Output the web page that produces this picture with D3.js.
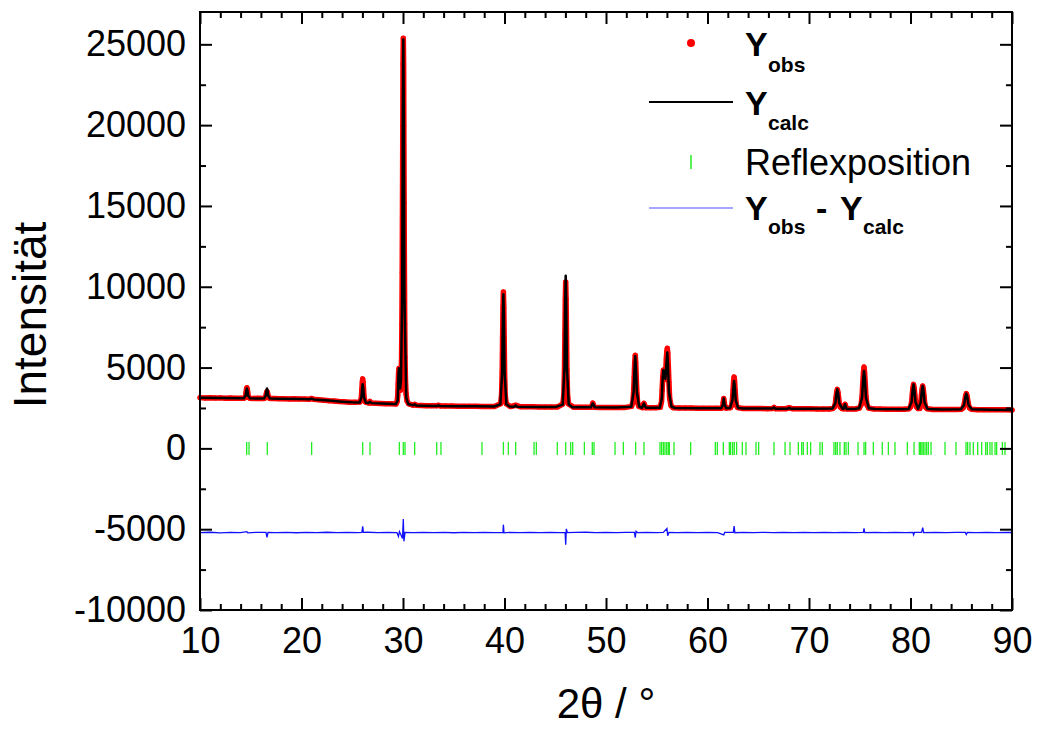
<!DOCTYPE html>
<html><head><meta charset="utf-8">
<script src="https://cdn.jsdelivr.net/npm/d3@7"></script>
<style>
body{margin:0;background:#fff}
svg{display:block}
text{font-family:"Liberation Sans",Arial,Helvetica,sans-serif;fill:#000}
</style>
</head><body>
<svg id="chart" width="1037" height="729"></svg>
<script>
// ---------- data ----------
const xTicks = [10,20,30,40,50,60,70,80,90];
const yTicks = [-10000,-5000,0,5000,10000,15000,20000,25000];

// observed intensities [2theta, counts]
const yObs = [
[10,3140],[10.5,3120],[11,3135],[11.5,3110],[12,3125],[12.5,3100],[13,3115],[13.5,3095],[14,3105],
[14.34,3105],[14.44,3155],[14.50,3290],[14.54,3470],[14.58,3660],[14.62,3750],[14.66,3660],[14.70,3470],[14.74,3290],[14.80,3155],[14.90,3105],
[15.2,3090],[15.7,3100],
[16.32,3090],[16.42,3125],[16.48,3210],[16.52,3335],[16.56,3460],[16.60,3520],[16.64,3460],[16.68,3335],[16.72,3210],[16.78,3125],[16.88,3090],
[17.3,3080],[17.8,3065],[18.3,3075],[18.8,3060],[19.3,3070],[19.8,3050],[20.3,3055],[20.8,3045],[21.0,3090],[21.2,3035],[21.7,3010],[22.2,2985],[22.7,2950],[23.2,2935],[23.7,2900],[24.2,2885],[24.7,2860],[25.2,2855],
[25.75,2865],[25.85,2980],[25.91,3270],[25.95,3680],[25.99,4095],[26.03,4300],[26.07,4095],[26.11,3680],[26.15,3270],[26.21,2980],[26.31,2865],
[26.65,2810],[26.75,2900],[26.85,2805],[27.3,2790],[27.8,2780],[28.3,2765],[28.8,2755],
[29.32,2745],[29.42,2900],[29.48,3250],[29.52,3980],[29.56,4600],[29.60,4950],[29.64,4640],[29.68,4000],[29.72,3650],[29.76,3600],[29.80,4200],[29.86,5650],[29.89,7690],[29.92,10860],[29.95,15170],[29.98,19940],[30.00,23790],[30.03,25380],[30.06,23790],[30.08,19940],[30.11,15170],[30.14,10860],[30.17,7690],[30.20,5650],[30.24,4290],[30.30,3380],[30.40,2930],[30.55,2760],
[31.0,2675],[31.15,2730],[31.3,2665],[31.8,2650],[32.3,2640],[32.8,2635],[33.3,2630],[33.5,2670],[33.7,2625],[34.2,2620],[34.8,2615],[35.4,2610],[36,2605],[36.6,2600],[37.2,2600],[37.8,2595],[38.4,2590],[39.0,2590],
[39.61,2760],[39.71,3290],[39.77,4710],[39.81,6700],[39.85,8690],[39.89,9680],[39.93,8690],[39.97,6700],[40.01,4710],[40.07,3290],[40.17,2760],
[40.6,2585],[41.1,2670],[41.6,2575],[42.2,2570],[42.8,2570],[43.4,2565],[44,2560],[44.6,2560],[45.2,2555],
[45.75,2745],[45.85,3325],[45.91,4875],[45.95,7045],[45.99,9215],[46.03,10300],[46.07,9215],[46.11,7045],[46.15,4875],[46.21,3325],[46.31,2745],
[46.8,2550],[47.4,2548],[48.0,2545],
[48.55,2550],[48.65,2700],[48.70,2800],[48.75,2690],[48.85,2545],
[49.4,2535],[50,2532],[50.6,2528],[51.2,2525],[51.8,2522],
[52.52,2600],[52.65,2845],[52.72,3490],[52.78,4400],[52.83,5305],[52.88,5760],[52.93,5305],[52.98,4400],[53.04,3490],[53.11,2845],[53.24,2600],
[53.6,2520],[53.68,2690],[53.74,2790],[53.80,2680],[53.9,2515],
[54.4,2512],[54.9,2510],
[55.35,2540],[55.47,2900],[55.53,3600],[55.59,4400],[55.65,4850],[55.71,4550],[55.77,4250],[55.83,4300],[55.89,4800],[55.94,5550],[55.99,6000],[56.04,6200],[56.09,5900],[56.14,5100],[56.20,4100],[56.27,3100],[56.40,2650],[56.6,2520],
[57.2,2500],[57.8,2495],[58.4,2492],[59,2490],[59.6,2487],[60.2,2484],[60.8,2480],
[61.40,2490],[61.50,2620],[61.55,2850],[61.60,3080],[61.65,2860],[61.70,2640],[61.82,2490],
[62.26,2520],[62.39,2665],[62.46,3055],[62.52,3600],[62.57,4150],[62.62,4420],[62.67,4150],[62.72,3600],[62.78,3055],[62.85,2665],[62.98,2520],
[63.5,2468],[64.1,2465],[64.7,2462],[65.3,2460],[65.9,2458],[66.4,2460],[66.55,2535],[66.7,2455],[67.2,2455],[67.7,2452],[68.06,2515],[68.4,2450],[69,2448],[69.6,2446],[70.2,2445],[70.8,2444],[71.4,2442],[72.0,2441],
[72.34,2470],[72.50,2560],[72.60,2800],[72.66,3140],[72.73,3480],[72.79,3650],[72.85,3480],[72.92,3140],[72.98,2800],[73.08,2560],[73.24,2470],
[73.40,2445],[73.50,2650],[73.55,2730],[73.60,2640],[73.72,2440],
[74.2,2438],[74.6,2437],
[74.97,2500],[75.13,2695],[75.23,3215],[75.29,3945],[75.36,4675],[75.42,5040],[75.48,4675],[75.55,3945],[75.61,3215],[75.71,2695],[75.87,2500],
[76.4,2432],[77,2430],[77.6,2427],[78.2,2424],[78.8,2421],[79.4,2418],
[79.85,2450],[80.01,2565],[80.11,2875],[80.17,3310],[80.24,3745],[80.30,3960],[80.36,3745],[80.43,3310],[80.49,2875],[80.59,2565],[80.75,2460],
[80.92,2470],[81.01,2845],[81.07,3250],[81.14,3660],[81.20,3860],[81.26,3660],[81.33,3250],[81.39,2845],[81.49,2555],[81.65,2450],
[82.2,2410],[82.8,2407],[83.4,2404],[84,2402],[84.5,2400],
[85.00,2420],[85.18,2495],[85.28,2695],[85.36,2970],[85.43,3250],[85.50,3390],[85.57,3250],[85.64,2970],[85.72,2695],[85.82,2495],[86.00,2420],
[86.6,2395],[87.2,2392],[87.8,2390],[88.4,2388],[89,2385],[89.5,2383],[90,2380]
];

// calculated profile [2theta, counts]
const yCalc = [
[10,3130],[12,3110],[14,3095],
[14.32,3100],[14.50,3270],[14.57,3580],[14.62,3700],[14.67,3580],[14.74,3270],[14.92,3095],
[15.5,3088],
[16.30,3085],[16.48,3265],[16.55,3575],[16.60,3700],[16.65,3575],[16.72,3265],[16.90,3082],
[18,3070],[20,3050],[20.8,3040],[21.0,3080],[21.2,3030],[22,2990],[23,2940],[24,2890],[25,2850],
[25.73,2835],[25.91,3170],[25.98,3740],[26.03,3970],[26.08,3740],[26.15,3170],[26.33,2825],
[26.6,2810],[26.75,2880],[26.9,2800],[28,2770],[29,2745],[29.30,2740],
[29.48,2980],[29.55,4500],[29.60,4950],[29.65,4500],[29.72,3700],[29.80,4200],[29.92,9480],[29.98,20780],[30.03,25300],[30.08,20780],[30.14,9480],[30.32,3150],[30.5,2750],
[31.0,2670],[31.15,2720],[31.3,2660],[32,2645],[33.35,2625],[33.5,2665],[33.65,2620],[35,2610],[37,2600],[39,2590],
[39.59,2725],[39.77,4670],[39.84,8150],[39.89,9540],[39.94,8150],[40.01,4670],[40.19,2725],[40.5,2585],
[40.95,2578],[41.1,2660],[41.25,2575],[43,2565],[45,2555],
[45.73,2710],[45.91,4990],[45.98,9050],[46.03,10680],[46.08,9050],[46.15,4990],[46.33,2710],[46.7,2550],
[48.5,2542],[48.7,2780],[48.9,2538],[51,2525],
[52.49,2580],[52.72,3470],[52.82,5060],[52.88,5700],[52.94,5060],[53.04,3470],[53.27,2580],
[53.55,2515],[53.74,2780],[53.93,2512],[55.0,2508],
[55.30,2520],[55.50,3100],[55.58,4300],[55.65,4850],[55.72,4500],[55.85,4300],[55.95,5200],[56.04,5930],[56.10,5200],[56.20,3500],[56.45,2580],[56.8,2500],
[59,2485],[61.35,2478],[61.52,2700],[61.60,3080],[61.68,2700],[61.85,2478],
[62.23,2505],[62.46,2980],[62.56,3830],[62.62,4170],[62.68,3830],[62.78,2980],[63.01,2505],[63.5,2470],
[66.4,2460],[66.55,2530],[66.7,2455],[67.9,2452],[68.06,2510],[68.2,2450],[70,2445],
[72.31,2465],[72.60,2800],[72.71,3410],[72.79,3650],[72.87,3410],[72.98,2800],[73.27,2470],
[73.4,2445],[73.55,2730],[73.7,2440],[74.5,2437],
[74.94,2480],[75.23,3140],[75.34,4320],[75.42,4790],[75.50,4320],[75.61,3140],[75.90,2480],[76.5,2430],[79,2420],
[79.82,2440],[80.11,2875],[80.22,3650],[80.30,3960],[80.38,3650],[80.49,2875],[80.75,2450],
[81.01,2845],[81.12,3570],[81.20,3860],[81.28,3570],[81.39,2845],[81.68,2440],[83,2405],
[84.96,2415],[85.28,2690],[85.41,3190],[85.50,3390],[85.59,3190],[85.72,2690],[86.04,2415],[88,2390],[90,2380]
];

// difference curve (offset) [2theta, counts]
const yDiff = [
[10,-5210],[11,-5190],[12,-5225],[13,-5200],[14,-5215],[14.62,-5150],[14.7,-5230],[15.5,-5200],[16.5,-5200],[16.6,-5500],[16.7,-5200],
[17.5,-5215],[18.5,-5195],[19.5,-5220],[20.5,-5200],[21.5,-5215],[22.5,-5190],[23.5,-5210],[24.5,-5195],[25.5,-5215],
[25.95,-5200],[26.03,-4830],[26.1,-5200],[26.5,-5190],[27.5,-5210],[28.5,-5200],[29.4,-5210],[29.55,-5450],[29.65,-5150],
[29.95,-5580],[30.03,-4370],[30.09,-5750],[30.2,-5200],[31,-5215],[32,-5195],[33,-5210],[34,-5200],[35,-5220],[36,-5195],
[37,-5210],[38,-5200],[39,-5215],[39.85,-5200],[39.89,-4720],[39.95,-5230],[40.5,-5200],[41.5,-5215],[42.5,-5195],[43.5,-5210],
[44.5,-5200],[45.5,-5215],[45.97,-5200],[46.03,-5960],[46.09,-4980],[46.2,-5210],[47,-5200],[48,-5190],[49,-5215],[50,-5200],
[51,-5210],[52,-5195],[52.8,-5200],[52.88,-5520],[52.96,-5130],[53.1,-5210],[54,-5200],[55,-5215],[55.65,-5200],[56.0,-4960],
[56.08,-5400],[56.2,-5200],[57,-5210],[58,-5195],[59,-5215],[60,-5200],[61,-5210],[61.6,-5350],[61.7,-5200],[62.55,-5200],
[62.62,-4800],[62.7,-5220],[63.5,-5200],[64.5,-5215],[65.5,-5195],[66.5,-5210],[67.5,-5200],[68.5,-5215],[69.5,-5195],
[70.5,-5210],[71.5,-5200],[72.5,-5215],[73.5,-5195],[74.5,-5210],[75.35,-5200],[75.42,-4950],[75.5,-5210],[76.5,-5200],
[77.5,-5215],[78.5,-5195],[79.5,-5210],[80.25,-5200],[80.3,-5350],[80.4,-5200],[81.1,-5200],[81.2,-4900],[81.3,-5210],
[82.5,-5200],[83.5,-5215],[84.5,-5195],[85.4,-5200],[85.5,-5330],[85.6,-5200],[86.5,-5210],[87.5,-5200],[88.5,-5215],
[89.5,-5195],[90,-5205]
];

// Bragg reflection positions (2theta)
const reflexPos = [14.60,14.83,16.63,21.0,26.03,26.75,29.64,30.03,30.20,31.15,33.32,33.74,37.78,39.89,40.38,41.10,42.91,43.14,45.20,46.03,46.52,46.72,47.87,48.65,48.82,50.89,51.71,52.92,53.74,55.32,55.48,55.65,55.81,55.98,56.14,56.24,56.70,58.34,60.77,60.97,61.56,62.15,62.28,62.48,62.64,62.87,63.43,63.79,64.78,65.04,66.55,67.64,68.13,68.95,69.28,69.44,69.84,70.16,71.08,71.31,72.46,72.63,72.79,73.05,73.48,73.65,73.88,74.83,75.42,75.58,76.34,77.22,77.82,78.47,79.69,80.35,80.87,81.0,81.13,81.26,81.43,81.59,81.76,82.02,83.40,84.48,85.47,85.63,85.86,86.19,86.62,87.01,87.41,87.57,87.83,88.03,88.33,88.49,89.05,89.31];

// ---------- chart ----------
const svg = d3.select("#chart");
const L = 200, R = 1012, T = 12, B = 610;
const x = d3.scaleLinear().domain([10, 90]).range([L, R]);
const y = d3.scaleLinear().domain([-10000, 27000]).range([B, T]);

const line = d3.line().x(d => x(d[0])).y(d => y(d[1]));

const plot = svg.append("g");
// observed: dense red scatter (band) + individual points
plot.append("path").datum(yObs).attr("d", line)
  .attr("fill", "none").attr("stroke", "#ff0000").attr("stroke-width", 5.5)
  .attr("stroke-linejoin", "round").attr("stroke-linecap", "round");
plot.selectAll("circle.obs").data(yObs).join("circle").attr("class", "obs")
  .attr("cx", d => x(d[0])).attr("cy", d => y(d[1])).attr("r", 2.5).attr("fill", "#ff0000");
// calculated
plot.append("path").datum(yCalc).attr("d", line)
  .attr("fill", "none").attr("stroke", "#000").attr("stroke-width", 2.5)
  .attr("stroke-linejoin", "round");
// reflection ticks
plot.selectAll("line.refl").data(reflexPos).join("line").attr("class", "refl")
  .attr("x1", d => x(d)).attr("x2", d => x(d))
  .attr("y1", y(0) - 6.5).attr("y2", y(0) + 6.5)
  .attr("stroke", "#22ee22").attr("stroke-width", 1.3);
// difference
plot.append("path").datum(yDiff).attr("d", line)
  .attr("fill", "none").attr("stroke", "#1010ff").attr("stroke-width", 1.3);

// axes
const fmt = d => String(d);   // plain hyphen-minus like the reference
const xMinor = d3.range(10, 90.01, 2).filter(v => v % 10 !== 0);
const yMinor = d3.range(-7500, 27000, 5000);
function styleAxis(g) {
  g.select(".domain").remove();
  g.selectAll(".tick line").attr("stroke", "#000").attr("stroke-width", 2);
  g.selectAll("text").attr("font-size", 36).attr("fill", "#000")
    .attr("font-family", '"Liberation Sans", Arial, sans-serif');
}
svg.append("g").attr("transform", `translate(0,${B})`)
  .call(d3.axisBottom(x).tickValues(xTicks).tickSize(-12).tickPadding(17).tickFormat(fmt))
  .call(styleAxis);
svg.append("g").attr("transform", `translate(0,${B})`)
  .call(d3.axisBottom(x).tickValues(xMinor).tickSize(-6).tickFormat(""))
  .call(styleAxis);
svg.append("g").attr("transform", `translate(0,${T})`)
  .call(d3.axisTop(x).tickValues(xTicks).tickSize(-12).tickFormat(""))
  .call(styleAxis);
svg.append("g").attr("transform", `translate(0,${T})`)
  .call(d3.axisTop(x).tickValues(xMinor).tickSize(-6).tickFormat(""))
  .call(styleAxis);
svg.append("g").attr("transform", `translate(${L},0)`)
  .call(d3.axisLeft(y).tickValues(yTicks).tickSize(-12).tickPadding(14).tickFormat(fmt))
  .call(styleAxis);
svg.append("g").attr("transform", `translate(${L},0)`)
  .call(d3.axisLeft(y).tickValues(yMinor).tickSize(-6).tickFormat(""))
  .call(styleAxis);
svg.append("g").attr("transform", `translate(${R},0)`)
  .call(d3.axisRight(y).tickValues(yTicks).tickSize(-12).tickFormat(""))
  .call(styleAxis);
svg.append("g").attr("transform", `translate(${R},0)`)
  .call(d3.axisRight(y).tickValues(yMinor).tickSize(-6).tickFormat(""))
  .call(styleAxis);

svg.append("rect").attr("x", L).attr("y", T).attr("width", R - L).attr("height", B - T)
  .attr("fill", "none").attr("stroke", "#000").attr("stroke-width", 2);

// axis titles
svg.append("text").attr("x", 606).attr("y", 718).attr("text-anchor", "middle")
  .attr("font-size", 42).text("2θ / °");
svg.append("text").attr("transform", "translate(46,315) rotate(-90)")
  .attr("text-anchor", "middle").attr("font-size", 46).text("Intensität");

// legend
const lg = svg.append("g");
lg.append("circle").attr("cx", 691).attr("cy", 43).attr("r", 4).attr("fill", "#ff0000");
lg.append("line").attr("x1", 649).attr("x2", 733).attr("y1", 102).attr("y2", 102)
  .attr("stroke", "#000").attr("stroke-width", 2);
lg.append("line").attr("x1", 691).attr("x2", 691).attr("y1", 155).attr("y2", 169)
  .attr("stroke", "#22ee22").attr("stroke-width", 1.5);
lg.append("line").attr("x1", 649).attr("x2", 733).attr("y1", 208).attr("y2", 208)
  .attr("stroke", "#5050ff").attr("stroke-width", 1.2);

function big(xp, yp, s) {
  lg.append("text").attr("x", xp).attr("y", yp).attr("font-size", 34).attr("font-weight", "bold").text(s);
}
function sub(xp, yp, s) {
  lg.append("text").attr("x", xp).attr("y", yp).attr("font-size", 21).attr("font-weight", "bold").text(s);
}
big(745, 56, "Y"); sub(768, 72, "obs");
big(745, 115, "Y"); sub(768, 130, "calc");
lg.append("text").attr("x", 745).attr("y", 175).attr("font-size", 36).text("Reflexposition");
big(745, 220, "Y"); sub(768, 234, "obs");
big(816, 220, "-");
big(840, 220, "Y"); sub(863, 234, "calc");
</script>
</body></html>
